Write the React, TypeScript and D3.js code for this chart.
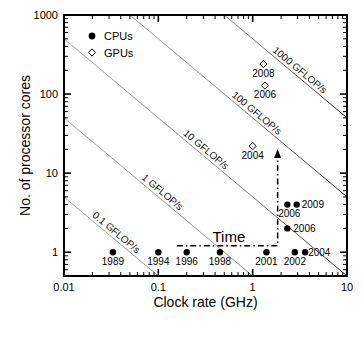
import React from "react";
import * as d3 from "d3";

// ---- Data ----
const cpuClock = [0.033, 0.1, 0.2, 0.45, 1.4, 2.8, 3.6, 2.33, 2.33, 2.93];
const cpuCores = [1, 1, 1, 1, 1, 1, 1, 2, 4, 4];
const cpuYear = ["1989", "1994", "1996", "1998", "2001", "2002", "2004", "2006", "2006", "2009"];

const gpuClock = [1.0, 1.35, 1.3];
const gpuCores = [22, 128, 240];
const gpuYear = ["2004", "2006", "2008"];

const gflopLevels = [0.1, 1, 10, 100, 1000];
const gflopLabels = ["0.1 GFLOP/s", "1 GFLOP/s", "10 GFLOP/s", "100 GFLOP/s", "1000 GFLOP/s"];
const gflopLabelClock = [0.0325, 0.1, 0.29, 1.0, 2.86];
const flopsPerCycle = 2;

const xTickValues = [0.01, 0.1, 1, 10];
const xTickLabels = ["0.01", "0.1", "1", "10"];
const yTickValues = [1, 10, 100, 1000];
const yTickLabels = ["1", "10", "100", "1000"];

const legendLabels = ["CPUs", "GPUs"];

// "Time" arrow path in data coordinates (clock, cores)
const timeArrowClock = [0.157, 1.84, 1.84];
const timeArrowCores = [1.21, 1.21, 15.5];
const timeArrowTipCores = 20.2;
const timeLabel = "Time";
const timeLabelClock = 0.56;

const xTitle = "Clock rate (GHz)";
const yTitle = "No. of processor cores";

const FONT = "'Liberation Sans', Arial, Helvetica, sans-serif";

export default function App() {
  const W = 363, H = 340;
  const L = 64, R = 347, T = 15, B = 276;

  const x = d3.scaleLog().domain([0.01, 10]).range([L, R]);
  const y = d3.scaleLog().domain([0.5, 1000]).range([B, T]);

  const angle = (Math.atan2(y(1) - y(10), x(10) - x(1)) * 180) / Math.PI;

  const xMinor = x.ticks().filter((t) => !xTickValues.some((m) => Math.abs(m - t) / m < 1e-6));
  const yMinor = y.ticks().filter((t) => !yTickValues.some((m) => Math.abs(m - t) / m < 1e-6) && t > 0.5001);

  const line = d3
    .line<number>()
    .x((c) => x(c))
    .y((c) => 0);

  const gLines = gflopLevels.map((g) => {
    const cs = [0.01, 10];
    const pts = cs.map((c) => [x(c), y(g / (flopsPerCycle * c))] as [number, number]);
    return d3.line()(pts) as string;
  });
  void line;

  const cpuLabelPos = (i: number, px: number, py: number) => {
    const yr = cpuYear[i];
    const cores = cpuCores[i];
    if (yr === "2009") return { x: px + 5, y: py + 3.5, anchor: "start" };
    if (yr === "2006" && cores === 2) return { x: px + 6, y: py + 4, anchor: "start" };
    if (yr === "2006" && cores === 4) return { x: px + 2, y: py + 12, anchor: "middle" };
    if (yr === "2004") return { x: px + 3, y: py + 3.5, anchor: "start" };
    return { x: px, y: py + 12.5, anchor: "middle" };
  };

  const diamond = (px: number, py: number, r: number) =>
    `M${px},${py - r}L${px + r},${py}L${px},${py + r}L${px - r},${py}Z`;

  const arrowPts = timeArrowClock.map((c, i) => [x(c), y(timeArrowCores[i])] as [number, number]);
  const tipX = x(timeArrowClock[2]);
  const tipY = y(timeArrowTipCores);
  const baseY = y(timeArrowCores[2]);

  return (
    <svg
      width={W}
      height={H}
      style={{ position: "absolute", left: 0, top: 0, background: "#fff" }}
      fontFamily={FONT}
    >
      <defs>
        <clipPath id="plotClip">
          <rect x={L} y={T} width={R - L} height={B - T} />
        </clipPath>
        <linearGradient id="lineGrad" gradientUnits="userSpaceOnUse" x1={L} y1={0} x2={R} y2={0}>
          <stop offset="0%" stopColor="#a6a6a6" />
          <stop offset="60%" stopColor="#8c8c8c" />
          <stop offset="100%" stopColor="#262626" />
        </linearGradient>
      </defs>
      <rect x={0} y={0} width={W} height={H} fill="#fff" />

      {/* GFLOP/s lines */}
      <g clipPath="url(#plotClip)">
        {gLines.map((d, i) => (
          <path key={i} d={d} fill="none" stroke="url(#lineGrad)" strokeWidth={1} />
        ))}
      </g>
      {gflopLabels.map((lab, i) => {
        const c = gflopLabelClock[i];
        const px = x(c);
        const py = y(gflopLevels[i] / (flopsPerCycle * c));
        return (
          <text
            key={lab}
            transform={`translate(${px},${py}) rotate(${angle})`}
            y={-3}
            textAnchor="middle"
            fontSize={10}
            fill="#111"
          >
            {lab}
          </text>
        );
      })}

      {/* Time arrow */}
      <path
        d={d3.line()(arrowPts) as string}
        fill="none"
        stroke="#000"
        strokeWidth={1.5}
        strokeDasharray="6,3,1.5,3"
      />
      <path d={`M${tipX},${tipY}L${tipX + 3.5},${baseY}L${tipX - 3.5},${baseY}Z`} fill="#000" />
      <text x={x(timeLabelClock)} y={y(timeArrowCores[0]) - 3.5} textAnchor="middle" fontSize={15}>
        {timeLabel}
      </text>

      {/* CPU points */}
      {cpuClock.map((c, i) => {
        const px = x(c);
        const py = y(cpuCores[i]);
        const lp = cpuLabelPos(i, px, py);
        return (
          <g key={"cpu" + i}>
            <circle cx={px} cy={py} r={3.2} fill="#000" />
            <text x={lp.x} y={lp.y} textAnchor={lp.anchor as any} fontSize={10}>
              {cpuYear[i]}
            </text>
          </g>
        );
      })}

      {/* GPU points */}
      {gpuClock.map((c, i) => {
        const px = x(c);
        const py = y(gpuCores[i]);
        return (
          <g key={"gpu" + i}>
            <path d={diamond(px, py, 3.6)} fill="#fff" stroke="#000" strokeWidth={1} />
            <text x={px} y={py + 12.5} textAnchor="middle" fontSize={10}>
              {gpuYear[i]}
            </text>
          </g>
        );
      })}

      {/* Legend */}
      <circle cx={92} cy={36} r={3.4} fill="#000" />
      <text x={104} y={40} fontSize={11}>
        {legendLabels[0]}
      </text>
      <path d={diamond(92, 52.5, 3.6)} fill="#fff" stroke="#000" strokeWidth={1} />
      <text x={104} y={56.5} fontSize={11}>
        {legendLabels[1]}
      </text>

      {/* Ticks (inside, all four sides) */}
      {xTickValues.map((t) => (
        <g key={"xm" + t}>
          <line x1={x(t)} x2={x(t)} y1={B} y2={B - 7} stroke="#000" strokeWidth={1.6} />
          <line x1={x(t)} x2={x(t)} y1={T} y2={T + 7} stroke="#000" strokeWidth={1.6} />
        </g>
      ))}
      {xMinor.map((t) => (
        <g key={"xn" + t}>
          <line x1={x(t)} x2={x(t)} y1={B} y2={B - 4} stroke="#000" strokeWidth={1} />
          <line x1={x(t)} x2={x(t)} y1={T} y2={T + 4} stroke="#000" strokeWidth={1} />
        </g>
      ))}
      {yTickValues.map((t) => (
        <g key={"ym" + t}>
          <line x1={L} x2={L + 7} y1={y(t)} y2={y(t)} stroke="#000" strokeWidth={1.6} />
          <line x1={R} x2={R - 7} y1={y(t)} y2={y(t)} stroke="#000" strokeWidth={1.6} />
        </g>
      ))}
      {yMinor.map((t) => (
        <g key={"yn" + t}>
          <line x1={L} x2={L + 4} y1={y(t)} y2={y(t)} stroke="#000" strokeWidth={1} />
          <line x1={R} x2={R - 4} y1={y(t)} y2={y(t)} stroke="#000" strokeWidth={1} />
        </g>
      ))}

      {/* Frame */}
      <rect x={L} y={T} width={R - L} height={B - T} fill="none" stroke="#000" strokeWidth={2} />

      {/* Tick labels */}
      {xTickValues.map((t, i) => (
        <text key={"xl" + t} x={x(t)} y={B + 14.5} textAnchor="middle" fontSize={11}>
          {xTickLabels[i]}
        </text>
      ))}
      {yTickValues.map((t, i) => (
        <text key={"yl" + t} x={L - 6} y={y(t) + 4} textAnchor="end" fontSize={11}>
          {yTickLabels[i]}
        </text>
      ))}

      {/* Axis titles */}
      <text x={(L + R) / 2} y={307} textAnchor="middle" fontSize={14}>
        {xTitle}
      </text>
      <text
        transform={`translate(30,${(T + B) / 2}) rotate(-90)`}
        textAnchor="middle"
        fontSize={14}
      >
        {yTitle}
      </text>
    </svg>
  );
}
